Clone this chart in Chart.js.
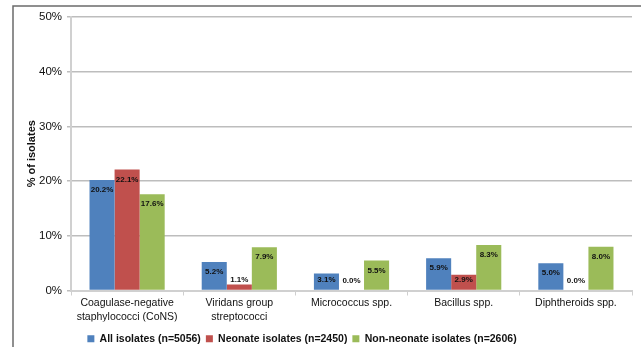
<!DOCTYPE html>
<html>
<head>
<meta charset="utf-8">
<script src="https://cdn.jsdelivr.net/npm/chart.js@4.4.1/dist/chart.umd.min.js"></script>
<style>
  html, body { margin: 0; padding: 0; background: #fff; }
  #wrap { width: 641px; height: 347px; position: relative; }
</style>
</head>
<body>
<div id="wrap"><canvas id="chart" width="641" height="347"></canvas></div>
<script>
const categories = [
    ["Coagulase-negative", "staphylococci (CoNS)"],
    ["Viridans group", "streptococci"],
    "Micrococcus spp.",
    "Bacillus spp.",
    "Diphtheroids spp."
]
const allIsolates = [20.2, 5.2, 3.1, 5.9, 5.0]
const neonateIsolates = [22.1, 1.1, 0.0, 2.9, 0.0]
const nonNeonateIsolates = [17.6, 7.9, 5.5, 8.3, 8.0]
const seriesNames = ["All isolates (n=5056)", "Neonate isolates (n=2450)", "Non-neonate isolates (n=2606)"]
const yTicks = [0, 10, 20, 30, 40, 50]

const fontFamily = "'Liberation Sans', Arial, sans-serif"

// frame lines along the top and left of the picture
const framePlugin = {
    id: "frame",
    beforeDraw(chart) {
        const ctx = chart.ctx
        ctx.save()
        ctx.strokeStyle = "#6b6b6b"
        ctx.lineWidth = 1.5
        ctx.beginPath()
        ctx.moveTo(13, 347)
        ctx.lineTo(13, 6)
        ctx.lineTo(641, 6)
        ctx.stroke()
        ctx.restore()
    }
}

// value labels, inside the top of each bar (pushed up when the bar is short)
const valueLabels = {
    id: "valueLabels",
    afterDatasetsDraw(chart) {
        const ctx = chart.ctx
        ctx.save()
        ctx.font = "bold 8px " + fontFamily
        ctx.fillStyle = "#111"
        ctx.textAlign = "center"
        ctx.textBaseline = "middle"
        chart.data.datasets.forEach((ds, i) => {
            chart.getDatasetMeta(i).data.forEach((bar, j) => {
                const y = Math.min(bar.y + 10, bar.base - 10)
                ctx.fillText(ds.data[j].toFixed(1) + "%", bar.x, y)
            })
        })
        ctx.restore()
    }
}

// nudge the legend left and down, like the original
const legendShift = {
    id: "legendShift",
    afterLayout(chart) {
        chart.legend.left -= 14
        chart.legend.right -= 14
        chart.legend.top += 7
        chart.legend.bottom += 7
    }
}

new Chart(document.getElementById("chart"), {
    type: "bar",
    data: {
        labels: categories,
        datasets: [
            { label: seriesNames[0], data: allIsolates, backgroundColor: "#4f81bd" },
            { label: seriesNames[1], data: neonateIsolates, backgroundColor: "#c0504d" },
            { label: seriesNames[2], data: nonNeonateIsolates, backgroundColor: "#9bbb59" }
        ]
    },
    options: {
        responsive: false,
        animation: false,
        events: [],
        datasets: { bar: { categoryPercentage: 0.67, barPercentage: 1 } },
        layout: { padding: { left: 0, right: 9, top: 17, bottom: 0 } },
        plugins: {
            tooltip: { enabled: false },
            legend: {
                position: "bottom",
                labels: {
                    boxWidth: 7,
                    boxHeight: 7,
                    padding: 5,
                    color: "#111",
                    font: { family: fontFamily, size: 10.5, weight: "bold" }
                }
            }
        },
        scales: {
            x: {
                afterFit: s => { s.height = 31 },
                grid: { drawOnChartArea: false, drawTicks: true, tickLength: 5, color: "#cfcfcf", lineWidth: 1 },
                border: { color: "#d0d0d0", width: 2 },
                ticks: {
                    padding: 1,
                    color: "#111",
                    maxRotation: 0,
                    font: { family: fontFamily, size: 10.5, lineHeight: 1.3 }
                }
            },
            y: {
                min: 0,
                max: 50,
                afterFit: s => { s.width = 71 },
                afterBuildTicks: s => { s.ticks = yTicks.map(v => ({ value: v })) },
                grid: { color: "#bdbdbd", lineWidth: 1.5, drawTicks: true, tickLength: 4 },
                border: { color: "#d0d0d0", width: 2 },
                ticks: {
                    padding: 5,
                    color: "#111",
                    font: { family: fontFamily, size: 11.5 },
                    callback: v => v + "%"
                },
                title: {
                    display: true,
                    text: "% of isolates",
                    color: "#111",
                    padding: { top: 25, bottom: 0 },
                    font: { family: fontFamily, size: 11, weight: "bold" }
                }
            }
        }
    },
    plugins: [framePlugin, valueLabels, legendShift]
})
</script>
</body>
</html>
